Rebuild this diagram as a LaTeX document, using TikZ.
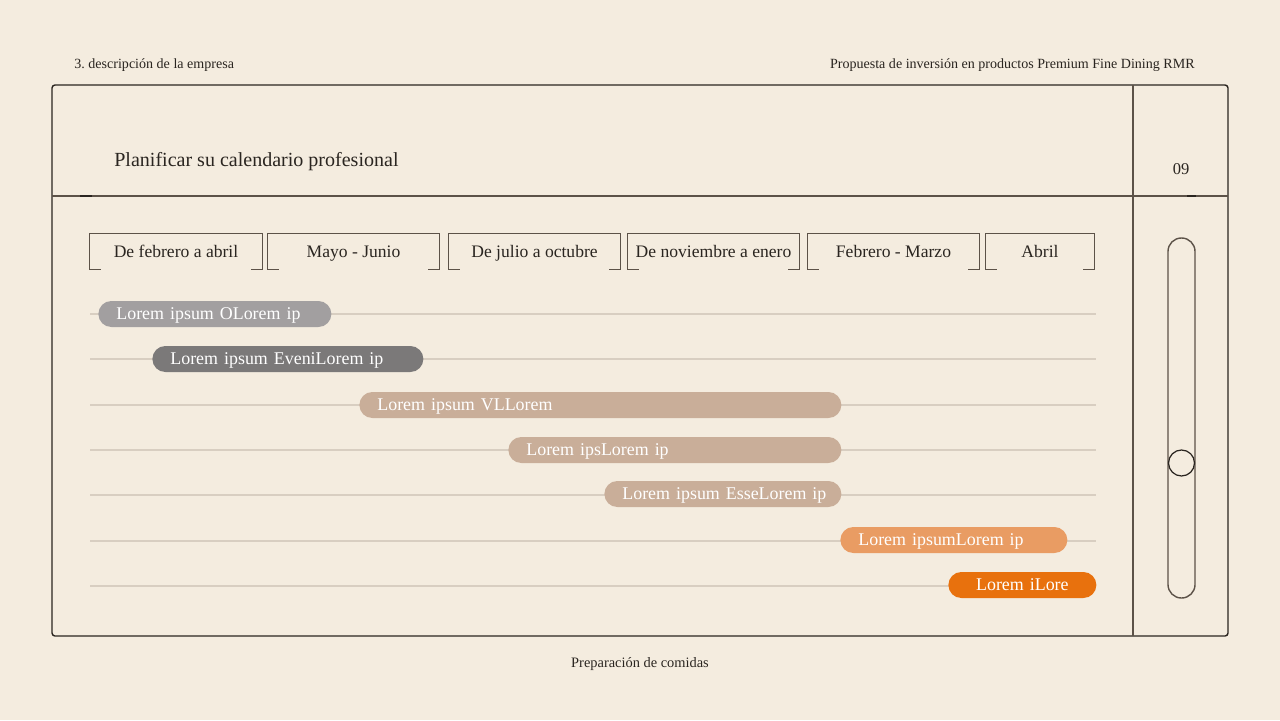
\documentclass[tikz,border=0pt]{standalone}
\usepackage{fontspec}
\setmainfont{Liberation Serif}
\usepackage{xcolor}
\definecolor{paper}{HTML}{F4ECDF}
\definecolor{ink}{HTML}{2A2520}
\definecolor{rule}{HTML}{5C5248}
\definecolor{track}{HTML}{D8CEC1}
\definecolor{barlight}{HTML}{A29FA0}
\definecolor{bardark}{HTML}{7B7979}
\definecolor{bartan}{HTML}{C9AE99}
\definecolor{barpeach}{HTML}{E99C63}
\definecolor{barorange}{HTML}{E8710D}
\frenchspacing

\tikzset{
    monthbox/.style={minimum height=35*0.02cm, inner sep=0pt, text height=0.66em, text depth=0pt, font=\fontsize{10}{11}\selectfont, text=ink},
    bar/.style={anchor=west, rounded corners=13*0.02cm, minimum height=26*0.02cm, inner ysep=0pt, inner xsep=18*0.02cm, text height=0.66em, text depth=0pt, text=white, font=\fontsize{10.2}{11}\selectfont},
    head/.style={inner sep=0pt, text=ink, font=\fontsize{8}{9}\selectfont},
}

\begin{document}
\begin{tikzpicture}[x=0.02cm, y=-0.02cm]
        % Page
        \fill[paper] (0,0) rectangle (1280,720);
        \useasboundingbox (0,0) rectangle (1280,720);

        % Running heads
        \node[head, anchor=base west] (chapter) at (74,68) {3. descripción de la empresa};
        \node[head, anchor=base east] (doc) at (1195,68) {Propuesta de inversión en productos Premium Fine Dining RMR};
        \node[head, anchor=base, font=\fontsize{8.2}{9}\selectfont] (foot) at (640,667) {Preparación de comidas};

        % Frame
        \draw[ink, line width=0.8pt, rounded corners=3*0.02cm] (52,85) rectangle (1228,636);
        \draw[rule, line width=0.8pt] (1133,85) -- (1133,636);
        \draw[rule, line width=0.8pt] (52,196) -- (1228,196);
        \draw[ink, line width=1.6pt] (80,196) -- (92,196);
        \draw[ink, line width=1.6pt] (1187,196) -- (1196,196);
        \draw[rule, line width=1.6pt] (1133,113) -- (1133,126);
        \draw[rule, line width=1.6pt] (1133,593) -- (1133,602);

        \node[head, anchor=base west, font=\fontsize{11.4}{13}\selectfont] (title) at (114,166) {Planificar su calendario profesional};
        \node[head, anchor=base, font=\fontsize{9.4}{11}\selectfont] (page) at (1181,174) {09};

        % Slider
        \draw[rule, line width=0.8pt, rounded corners=13.4*0.02cm] (1168,238) rectangle (1195,598);
        \node[circle, draw=ink, line width=0.7pt, fill=paper, minimum size=26*0.02cm, inner sep=0pt] (knob) at (1181.5,463) {};

        % Months
        \foreach \a/\b/\lbl [count=\i] in {90/262/De febrero a abril, 268/439/Mayo - Junio, 449/620/De julio a octubre, 628/799/De noviembre a enero, 808/979/Febrero - Marzo, 986/1094/Abril}{
            \pgfmathsetmacro\w{(\b-\a)*0.02}
            \node[monthbox, minimum width=\w cm] (m\i) at ({(\a+\b)/2},251.5) {\lbl};
            \draw[rule, line width=0.7pt] (m\i.south west) ++(11,0) -- (m\i.south west) -- (m\i.north west) -- (m\i.north east) -- (m\i.south east) -- ++(-11,0);
        }

        % Tracks
        \foreach \y in {314,359,405,450,495,541,586}{
            \draw[track, line width=1.1pt] (90,\y) -- (1096,\y);
        }

        % Bars
        \foreach \a/\b/\y/\col/\txt [count=\i] in {98/331/314/barlight/Lorem ipsum OLorem ip, 152/423/359/bardark/Lorem ipsum EveniLorem ip, 359/841/405/bartan/Lorem ipsum VLLorem, 508/841/450/bartan/Lorem ipsLorem ip, 604/841/494/bartan/Lorem ipsum EsseLorem ip, 840/1067/540/barpeach/Lorem ipsumLorem ip}{
            \pgfmathsetmacro\tw{(\b-\a-36)*0.02}
            \node[bar, fill=\col, text width=\tw cm, align=left] (bar\i) at (\a,\y) {\makebox[0pt][l]{\txt}};
        }
        \node[bar, fill=barorange, text width=112*0.02cm, align=center] (bar7) at (948,585) {Lorem iLore};
    \end{tikzpicture}
\end{document}
